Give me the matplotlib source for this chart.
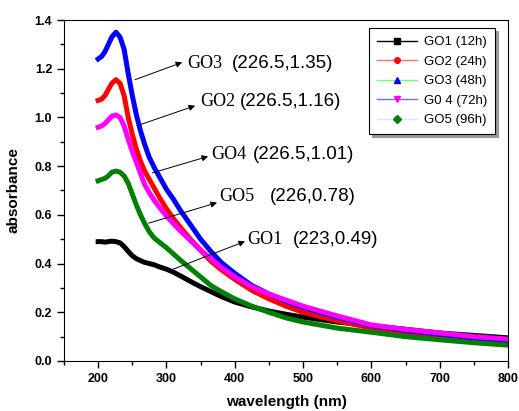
import matplotlib
matplotlib.use("Agg")
import matplotlib.pyplot as plt
from matplotlib.lines import Line2D
from matplotlib.ticker import MultipleLocator

# wavelength grid (nm) shared by all samples
wavelength = [200, 205, 210, 215, 220, 226, 232, 238, 244, 250, 256, 262, 268, 275,
              282, 290, 300, 310, 320, 335, 350, 365, 380, 400, 425, 450, 475, 500,
              550, 600, 650, 700, 750, 800]

go1 = [0.49, 0.49, 0.488, 0.49, 0.492, 0.49, 0.485, 0.47, 0.45, 0.432, 0.42, 0.412,
       0.405, 0.40, 0.395, 0.386, 0.377, 0.365, 0.35, 0.327, 0.305, 0.285, 0.265,
       0.242, 0.222, 0.205, 0.192, 0.18, 0.16, 0.145, 0.13, 0.115, 0.105, 0.095]
go2 = [1.07, 1.075, 1.09, 1.115, 1.14, 1.155, 1.14, 1.09, 1.0, 0.93, 0.87, 0.82,
       0.78, 0.745, 0.71, 0.67, 0.625, 0.585, 0.55, 0.50, 0.455, 0.41, 0.375,
       0.335, 0.29, 0.255, 0.225, 0.20, 0.165, 0.135, 0.115, 0.10, 0.09, 0.08]
go3 = [1.24, 1.25, 1.27, 1.30, 1.33, 1.35, 1.33, 1.28, 1.18, 1.09, 1.01, 0.945,
       0.89, 0.835, 0.795, 0.755, 0.705, 0.665, 0.62, 0.56, 0.50, 0.45, 0.405,
       0.36, 0.31, 0.275, 0.245, 0.22, 0.18, 0.145, 0.125, 0.11, 0.095, 0.085]
go4 = [0.96, 0.965, 0.975, 0.99, 1.005, 1.01, 1.0, 0.965, 0.91, 0.86, 0.815, 0.77,
       0.725, 0.69, 0.66, 0.63, 0.595, 0.565, 0.535, 0.495, 0.455, 0.42, 0.385,
       0.345, 0.305, 0.275, 0.25, 0.225, 0.185, 0.148, 0.13, 0.115, 0.10, 0.09]
go5 = [0.74, 0.745, 0.75, 0.76, 0.775, 0.78, 0.775, 0.76, 0.73, 0.685, 0.64, 0.60,
       0.565, 0.53, 0.505, 0.487, 0.465, 0.44, 0.415, 0.38, 0.345, 0.31, 0.285,
       0.255, 0.225, 0.20, 0.177, 0.16, 0.135, 0.118, 0.10, 0.087, 0.075, 0.065]

series = [go1, go2, go3, go4, go5]
colors = ['black', '#ff0000', '#0000ff', '#ff00ff', '#008000']
labels = ['GO1 (12h)', 'GO2 (24h)', 'GO3 (48h)', 'G0 4 (72h)', 'GO5 (96h)']
# Origin-style legend: line colour and marker colour differ
leg_line = ['black', '#ff7070', '#70ff70', '#7070ff', '#cfeaff']
leg_mark = ['black', '#ff0000', '#0000ff', '#ff00ff', '#008000']
leg_sym = ['s', 'o', '^', 'v', 'D']

# peak annotations: name, value text, arrow tail (on curve), arrow head / text pos
ann_names = ['GO3', 'GO2', 'GO4', 'GO5', 'GO1']
ann_vals = ['(226.5,1.35)', '(226.5,1.16)', '(226.5,1.01)', '(226,0.78)', '(223,0.49)']
ann_tail = [(254, 1.155), (257, 0.966), (279, 0.772), (274, 0.566), (308, 0.375)]
ann_head = [(323, 1.226), (342, 1.048), (361, 0.84), (374, 0.65), (415, 0.491)]
ann_text = [(331, 1.222), (349, 1.066), (366, 0.847), (378, 0.676), (418, 0.497)]
ann_vx = [396, 408, 427, 452, 485]

fig = plt.figure(figsize=(5.19, 4.11), dpi=100)
ax = fig.add_axes([0.1233, 0.1217, 0.8555, 0.8296])

for y, c in zip(series, colors):
    ax.plot(wavelength, y, color=c, lw=3.6, solid_joinstyle='round')

for name, val, tail, head, txt, vx in zip(ann_names, ann_vals, ann_tail,
                                          ann_head, ann_text, ann_vx):
    ax.annotate('', xy=head, xytext=tail,
                arrowprops=dict(arrowstyle='-|>', color='black', lw=0.7,
                                mutation_scale=9, shrinkA=0, shrinkB=0))
    ax.text(txt[0], txt[1], name, family='Liberation Serif', fontsize=13,
            va='center', ha='left')
    ax.text(vx, txt[1], val, family='Liberation Sans', fontsize=13.5,
            va='center', ha='left')

ax.set_xlim(150, 800)
ax.set_ylim(0, 1.4)
ax.xaxis.set_major_locator(MultipleLocator(100))
ax.xaxis.set_minor_locator(MultipleLocator(50))
ax.yaxis.set_major_locator(MultipleLocator(0.2))
ax.yaxis.set_minor_locator(MultipleLocator(0.1))
ax.set_xticks(range(200, 801, 100))
ax.set_yticklabels([f'{v:.1f}' for v in ax.get_yticks()])
ax.tick_params(which='both', direction='out', top=False, right=False,
               width=1, labelsize=9)
ax.tick_params(which='major', length=5)
ax.tick_params(which='minor', length=3)
for lab in ax.get_xticklabels() + ax.get_yticklabels():
    lab.set_fontweight('bold')
    lab.set_family('Liberation Sans')

ax.set_xlabel('wavelength (nm)', fontsize=11, fontweight='bold',
              family='Liberation Sans', labelpad=7)
ax.set_ylabel('absorbance', fontsize=11, fontweight='bold',
              family='Liberation Sans', labelpad=10)

handles = [Line2D([], [], color=lc, lw=1, marker=m, markersize=4,
                  markerfacecolor=mc, markeredgecolor=mc)
           for lc, mc, m in zip(leg_line, leg_mark, leg_sym)]
leg = ax.legend(handles, labels, loc='upper right', bbox_to_anchor=(0.985, 0.995),
                frameon=True, fancybox=False, shadow={'color': '0.6', 'alpha': 1},
                handlelength=3.0, handletextpad=0.5, labelspacing=0.55,
                borderpad=0.6, prop={'family': 'Liberation Sans', 'size': 9.5})
leg.get_frame().set_edgecolor('black')
leg.get_frame().set_linewidth(0.8)

fig.savefig('out.png', dpi=100)
